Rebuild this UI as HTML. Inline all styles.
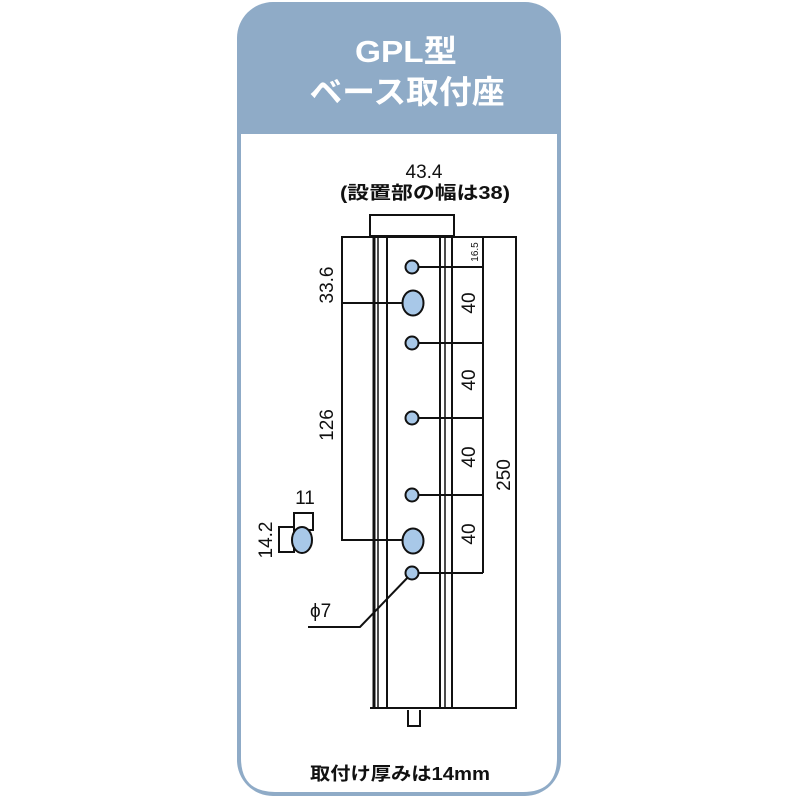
<!DOCTYPE html>
<html><head><meta charset="utf-8"><style>
html,body{margin:0;padding:0;background:#fff;width:800px;height:800px;overflow:hidden}
</style></head><body>
<svg width="800" height="800" viewBox="0 0 800 800" xmlns="http://www.w3.org/2000/svg" font-family="Liberation Sans, Noto Sans CJK JP, sans-serif">
<rect x="237" y="2" width="324" height="794" rx="36" fill="#8fabc7"/>
<path d="M241 134 H557 V758 Q557 792 523 792 H275 Q241 792 241 758 Z" fill="#fff"/>
<text x="406" y="62" text-anchor="middle" font-size="31" font-weight="bold" fill="#fff" textLength="102" lengthAdjust="spacingAndGlyphs">GPL型</text>
<text x="407" y="103" text-anchor="middle" font-size="32" font-weight="bold" fill="#fff" textLength="195" lengthAdjust="spacingAndGlyphs">ベース取付座</text>
<g stroke="#111" fill="none" stroke-width="2">
<rect x="370" y="215" width="84" height="21"/>
<polyline points="342,303 342,237 516,237 516,708 400,708"/>
<line x1="374" y1="237" x2="374" y2="708" stroke-width="3"/>
<line x1="378" y1="237" x2="378" y2="708" stroke-width="1.5"/>
<line x1="387" y1="237" x2="387" y2="708"/>
<line x1="440" y1="237" x2="440" y2="708"/>
<line x1="445" y1="237" x2="445" y2="708" stroke-width="1.5"/>
<line x1="452" y1="237" x2="452" y2="708"/>
<line x1="370" y1="708" x2="455" y2="708"/>
<line x1="483" y1="237" x2="483" y2="573"/>
<line x1="412" y1="267" x2="483" y2="267"/>
<line x1="412" y1="343" x2="483" y2="343"/>
<line x1="412" y1="418" x2="483" y2="418"/>
<line x1="412" y1="495" x2="483" y2="495"/>
<line x1="412" y1="573" x2="483" y2="573"/>
<polyline points="342,303 342,540 405,540"/>
<line x1="342" y1="303" x2="405" y2="303"/>
<polyline points="412,573 360,627 308,627"/>
<rect x="294" y="513" width="19" height="17"/>
<rect x="279" y="527" width="15" height="25"/>
<path d="M408 710 V726 H420 V710"/>
</g>
<g fill="#a8c8e8" stroke="#111" stroke-width="2">
<circle cx="412" cy="267" r="6.5"/><circle cx="412" cy="343" r="6.5"/><circle cx="412" cy="418" r="6.5"/>
<circle cx="412" cy="495" r="6.5"/><circle cx="412" cy="573" r="6.5"/>
<ellipse cx="413" cy="303" rx="10.5" ry="12.5"/><ellipse cx="413" cy="541" rx="10.5" ry="12.5"/>
<ellipse cx="302" cy="540" rx="10" ry="13"/>
</g>
<g fill="#111" font-size="19">
<text x="424" y="178" text-anchor="middle">43.4</text>
<text x="425" y="199" text-anchor="middle" font-size="18" font-weight="bold" textLength="170" lengthAdjust="spacingAndGlyphs">(設置部の幅は38)</text>
<text transform="translate(333,285) rotate(-90)" text-anchor="middle">33.6</text>
<text transform="translate(333,425) rotate(-90)" text-anchor="middle">126</text>
<text transform="translate(475,303) rotate(-90)" text-anchor="middle">40</text>
<text transform="translate(475,380) rotate(-90)" text-anchor="middle">40</text>
<text transform="translate(475,457) rotate(-90)" text-anchor="middle">40</text>
<text transform="translate(475,534) rotate(-90)" text-anchor="middle">40</text>
<text transform="translate(478,252) rotate(-90)" text-anchor="middle" font-size="10">16.5</text>
<text transform="translate(510,475) rotate(-90)" text-anchor="middle">250</text>
<text x="305" y="504" text-anchor="middle">11</text>
<text transform="translate(272,540) rotate(-90)" text-anchor="middle">14.2</text>
<text x="310" y="617">ϕ7</text>
<text x="400" y="780" text-anchor="middle" font-size="18" font-weight="bold" textLength="180" lengthAdjust="spacingAndGlyphs">取付け厚みは14mm</text>
</g>
</svg>
</body></html>
